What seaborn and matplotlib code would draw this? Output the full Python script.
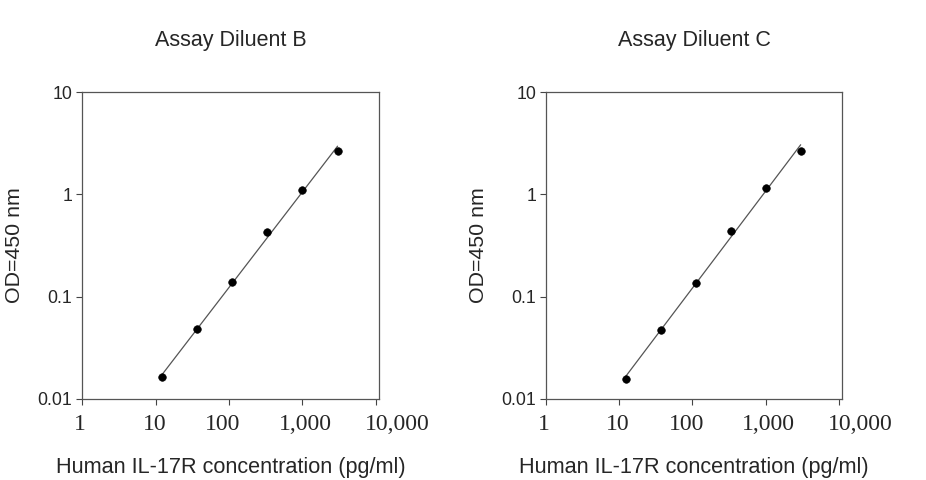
import numpy as np
import pandas as pd
import matplotlib
matplotlib.use("Agg")
import matplotlib.pyplot as plt
import matplotlib.transforms as mtransforms
import seaborn as sns

# standard curve data
conc = [12.3, 37, 111, 333, 1000, 3000]
od_b = [0.0162, 0.0484, 0.138, 0.428, 1.107, 2.64]
od_c = [0.0155, 0.047, 0.136, 0.434, 1.156, 2.66]
titles = ["Assay Diluent B", "Assay Diluent C"]
xticks = [1, 10, 100, 1000, 10000]
xtick_labels = ["1", "10", "100", "1,000", "10,000"]
yticks = [0.01, 0.1, 1, 10]
ytick_labels = ["0.01", "0.1", "1", "10"]

sns.set_style("white")
plt.rcParams['font.family'] = ['Liberation Sans', 'DejaVu Sans']

fig = plt.figure(figsize=(9.26, 4.8), dpi=100)
axes = [fig.add_axes([0.0886, 0.169, 0.3207, 0.639]),
        fig.add_axes([0.5896, 0.169, 0.3197, 0.639])]

# the original x labels sit a bit off their ticks (in pixels)
label_shift = [-2, -1, -6, 3, 21]

for ax, od, title in zip(axes, [od_b, od_c], titles):
    df = pd.DataFrame({'conc': conc, 'od': od})
    # straight fit in log-log space
    k, b = np.polyfit(np.log10(conc), np.log10(od), 1)
    fx = np.array([min(conc), max(conc)])
    fit = pd.DataFrame({'conc': fx, 'od': 10 ** (k * np.log10(fx) + b)})
    sns.lineplot(data=fit, x='conc', y='od', ax=ax, color='#555555', linewidth=0.9)
    sns.scatterplot(data=df, x='conc', y='od', ax=ax, color='black', s=30,
                    edgecolor='black', zorder=3)
    ax.set_xscale('log')
    ax.set_yscale('log')
    ax.set_xlim(1, 11000)
    ax.set_ylim(0.01, 10)
    ax.set_xticks(xticks)
    ax.set_xticklabels(xtick_labels, family='Liberation Serif', fontsize=17)
    ax.set_yticks(yticks)
    ax.set_yticklabels(ytick_labels, fontsize=12.8)
    ax.minorticks_off()
    ax.tick_params(axis='both', direction='out', length=4, width=0.8,
                   color='#444444', bottom=True, left=True)
    ax.tick_params(axis='x', pad=7)
    ax.tick_params(axis='y', pad=3)
    for lab, dx in zip(ax.get_xticklabels(), label_shift):
        off = mtransforms.ScaledTranslation(dx / 100, 0, fig.dpi_scale_trans)
        lab.set_transform(lab.get_transform() + off)
    for s in ax.spines.values():
        s.set_color('#555555')
        s.set_linewidth(0.9)
    ax.set_xlabel('Human IL-17R concentration (pg/ml)', fontsize=15.6, labelpad=16)
    ax.set_ylabel('OD=450 nm', fontsize=15.4, labelpad=10)
    ax.set_title(title, fontsize=15.5, pad=33)

fig.savefig('out.png', dpi=100)
